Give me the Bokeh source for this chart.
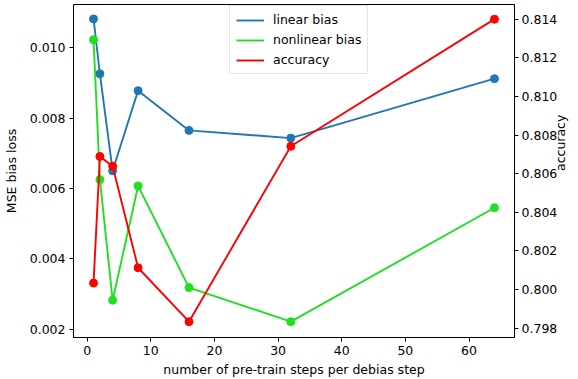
import math
from bokeh.plotting import figure
from bokeh.models import (Range1d, LinearAxis, FixedTicker, NumeralTickFormatter,
                          Legend, LegendItem)
from bokeh.embed import file_html
from bokeh.resources import INLINE

steps = [1, 2, 4, 8, 16, 32, 64]
linear_bias = [0.01082, 0.00926, 0.00650, 0.00878, 0.00765, 0.00743, 0.00912]
nonlinear_bias = [0.01023, 0.00625, 0.00282, 0.00607, 0.00318, 0.00221, 0.00545]
accuracy = [0.80034, 0.80689, 0.80639, 0.80113, 0.79834, 0.80742, 0.81400]

x_ticks = [0, 10, 20, 30, 40, 50, 60]
left_ticks = [0.002, 0.004, 0.006, 0.008, 0.010]
right_ticks = [0.798, 0.800, 0.802, 0.804, 0.806, 0.808, 0.810, 0.812, 0.814]

BLUE = "#1f77b4"
GREEN = "#1fe01f"
RED = "#ff0000"
FONT = "DejaVu Sans"
FS = "12.5px"

p = figure(width=578, height=379, output_backend="svg", toolbar_location=None,
           x_range=Range1d(-2.15, 67.15), y_range=Range1d(0.00176, 0.01123),
           min_border_left=72, min_border_right=58, min_border_top=4, min_border_bottom=41)
p.extra_y_ranges = {"acc": Range1d(0.79752, 0.81476)}

p.xgrid.visible = False
p.ygrid.visible = False
p.outline_line_color = "black"
p.outline_line_width = 1
p.background_fill_color = "white"
p.border_fill_color = "white"

def style_axis(ax):
    ax.axis_line_color = "black"
    ax.major_tick_line_color = "black"
    ax.major_tick_out = 4
    ax.major_tick_in = 0
    ax.minor_tick_line_color = None
    ax.major_label_text_font = FONT
    ax.major_label_text_font_size = FS
    ax.major_label_text_color = "black"
    ax.axis_label_text_font = FONT
    ax.axis_label_text_font_size = FS
    ax.axis_label_text_font_style = "normal"
    ax.axis_label_text_color = "black"
    ax.major_label_standoff = 4

xa = p.xaxis[0]
style_axis(xa)
xa.ticker = FixedTicker(ticks=x_ticks)
xa.axis_label = "number of pre-train steps per debias step"
xa.axis_label_standoff = 4

ya = p.yaxis[0]
style_axis(ya)
ya.ticker = FixedTicker(ticks=left_ticks)
ya.formatter = NumeralTickFormatter(format="0.000")
ya.axis_label = "MSE bias loss"
ya.axis_label_standoff = 8

ra = LinearAxis(y_range_name="acc")
style_axis(ra)
ra.ticker = FixedTicker(ticks=right_ticks)
ra.formatter = NumeralTickFormatter(format="0.000")
ra.major_label_standoff = 3
ra.axis_label = "accuracy"
ra.axis_label_standoff = 0
try:
    ra.axis_label_orientation = math.pi / 2
except Exception:
    pass
p.add_layout(ra, "right")

l1 = p.line(steps, linear_bias, color=BLUE, line_width=1.9)
p.scatter(steps, linear_bias, color=BLUE, size=8)
l2 = p.line(steps, nonlinear_bias, color=GREEN, line_width=1.9)
p.scatter(steps, nonlinear_bias, color=GREEN, size=8)
l3 = p.line(steps, accuracy, color=RED, line_width=1.9, y_range_name="acc")
p.scatter(steps, accuracy, color=RED, size=8, y_range_name="acc")

legend = Legend(items=[LegendItem(label="linear bias", renderers=[l1]),
                       LegendItem(label="nonlinear bias", renderers=[l2]),
                       LegendItem(label="accuracy", renderers=[l3])],
                location=(156, 263))
legend.label_text_font = FONT
legend.label_text_font_size = FS
legend.label_text_color = "black"
legend.glyph_width = 28
legend.glyph_height = 14
legend.label_height = 14
legend.label_standoff = 9
legend.spacing = 5
legend.padding = 6
legend.margin = 0
legend.border_line_color = "#cccccc"
legend.border_line_width = 1
legend.background_fill_alpha = 0.8
p.add_layout(legend)

open("out.html", "w").write(file_html(p, INLINE))
